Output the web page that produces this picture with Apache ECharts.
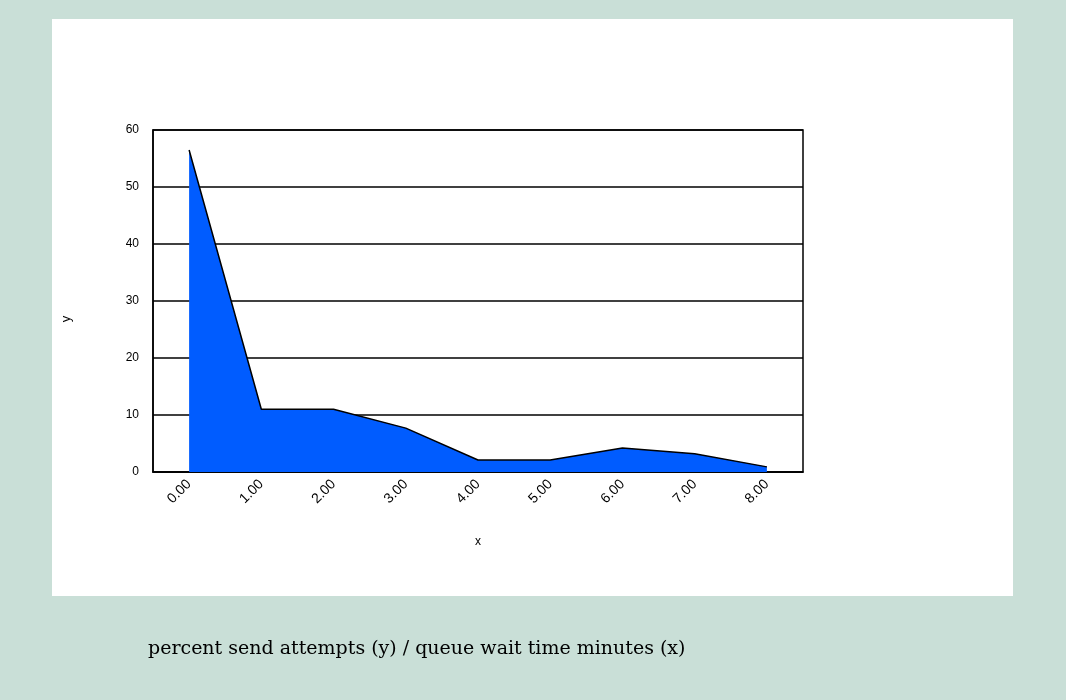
<!DOCTYPE html>
<html>
<head>
<meta charset="utf-8">
<script src="https://cdn.jsdelivr.net/npm/echarts@6/dist/echarts.min.js"></script>
<style>
  html, body { margin: 0; padding: 0; background: #c9dfd7; }
  #chart { width: 1066px; height: 700px; }
</style>
</head>
<body>
<div id="chart"></div>
<script>
// queue wait time minutes (x)
const categories = ['0.00', '1.00', '2.00', '3.00', '4.00', '5.00', '6.00', '7.00', '8.00']
// percent send attempts (y)
const values = [56.5, 11, 11, 7.7, 2.1, 2.1, 4.2, 3.2, 0.9]
const yTicks = [0, 10, 20, 30, 40, 50, 60]

const chart = echarts.init(document.getElementById('chart'))

const option = {
  animation: false,
  backgroundColor: '#c9dfd7',
  graphic: [{
    type: 'rect',
    z: -10,
    shape: { x: 52, y: 19, width: 961, height: 577 },
    style: { fill: '#ffffff' }
  }, {
    type: 'text',
    left: 148,
    top: 640,
    style: {
      text: 'percent send attempts (y) / queue wait time minutes (x)',
      fill: '#000',
      font: '19px "DejaVu Serif", serif'
    }
  }],
  grid: {
    left: 153,
    top: 130,
    width: 650,
    height: 342,
    show: true,
    borderColor: '#000',
    borderWidth: 1.5,
    backgroundColor: 'transparent'
  },
  xAxis: {
    type: 'category',
    data: categories,
    boundaryGap: true,
    name: 'x',
    nameLocation: 'middle',
    nameGap: 64,
    nameTextStyle: { color: '#000', fontSize: 12, fontFamily: 'Liberation Sans, Arial' },
    axisLine: { lineStyle: { color: '#000', width: 1.5 } },
    axisTick: { show: false },
    axisLabel: {
      rotate: 45,
      margin: 10,
      padding: [22, 0, 0, 0],
      color: '#000',
      fontSize: 14,
      fontFamily: 'Liberation Sans, Arial'
    },
    splitLine: { show: false }
  },
  yAxis: {
    type: 'value',
    min: yTicks[0],
    max: yTicks[yTicks.length - 1],
    interval: 10,
    name: 'y',
    nameLocation: 'middle',
    nameGap: 80,
    nameRotate: 90,
    nameTextStyle: {
      color: '#000',
      fontSize: 13,
      fontFamily: 'Liberation Sans, Arial',
      padding: [0, 36, 0, 0]
    },
    axisLine: { show: true, lineStyle: { color: '#000', width: 1.5 } },
    axisTick: { show: false },
    axisLabel: {
      margin: 14,
      color: '#000',
      fontSize: 12,
      fontFamily: 'Liberation Sans, Arial'
    },
    splitLine: { show: true, lineStyle: { color: '#000', width: 1.5 } }
  },
  series: [{
    type: 'line',
    data: values,
    symbol: 'none',
    lineStyle: { color: '#000', width: 1.5 },
    areaStyle: { color: '#005cff', opacity: 1 },
    z: 3
  }]
}

chart.setOption(option)
</script>
</body>
</html>
